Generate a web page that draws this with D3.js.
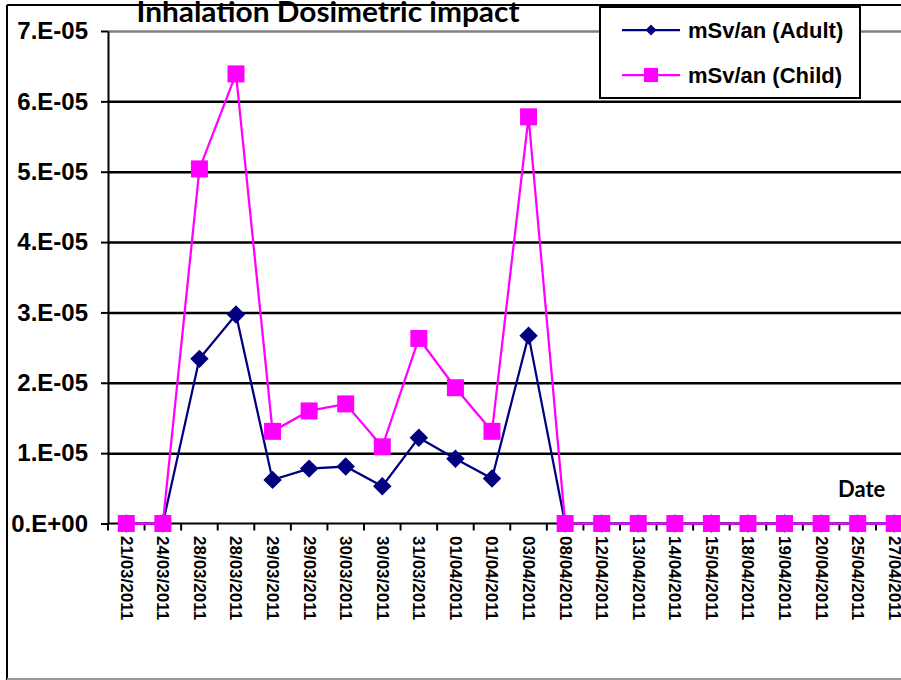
<!DOCTYPE html>
<html>
<head>
<meta charset="utf-8">
<script src="https://cdn.jsdelivr.net/npm/d3@7"></script>
<style>
  body { margin: 0; background: #fff; }
  svg { display: block; }
</style>
</head>
<body>
<svg width="901" height="680"></svg>
<script>
// **** data ****
var dates = ['21/03/2011', '24/03/2011', '28/03/2011', '28/03/2011', '29/03/2011', '29/03/2011',
  '30/03/2011', '30/03/2011', '31/03/2011', '01/04/2011', '01/04/2011', '03/04/2011',
  '08/04/2011', '12/04/2011', '13/04/2011', '14/04/2011', '15/04/2011', '18/04/2011',
  '19/04/2011', '20/04/2011', '25/04/2011', '27/04/2011'];

var adult = [0, 0, 2.34e-5, 2.97e-5, 0.62e-5, 0.78e-5, 0.81e-5, 0.53e-5, 1.22e-5, 0.92e-5, 0.64e-5, 2.67e-5,
  0, 0, 0, 0, 0, 0, 0, 0, 0, 0];

var child = [0, 0, 5.04e-5, 6.39e-5, 1.31e-5, 1.60e-5, 1.70e-5, 1.09e-5, 2.63e-5, 1.93e-5, 1.31e-5, 5.78e-5,
  0, 0, 0, 0, 0, 0, 0, 0, 0, 0];

var yTicks = [0, 1e-5, 2e-5, 3e-5, 4e-5, 5e-5, 6e-5, 7e-5];
var yTickLabels = ['0.E+00', '1.E-05', '2.E-05', '3.E-05', '4.E-05', '5.E-05', '6.E-05', '7.E-05'];

var seriesNames = ['mSv/an (Adult)', 'mSv/an (Child)'];

// **** scales ****
var svg = d3.select('svg');

var xScale = d3.scaleBand()
    .domain(d3.range(dates.length))
    .range([108, 108 + dates.length * 36.57]);

var yScale = d3.scaleLinear()
    .domain([0, 7e-5]).range([523.5, 31]);

// outer frame
svg.append('line').attr('x1', 7).attr('y1', 5).attr('x2', 901).attr('y2', 5)
    .attr('stroke', '#000').attr('stroke-width', 2);
svg.append('line').attr('x1', 7).attr('y1', 5).attr('x2', 7).attr('y2', 680)
    .attr('stroke', '#000').attr('stroke-width', 2);
svg.append('line').attr('x1', 7).attr('y1', 679).attr('x2', 901).attr('y2', 679)
    .attr('stroke', '#999').attr('stroke-width', 2);

// gridlines
svg.append('g').attr('class', 'grid')
    .attr('transform', 'translate(108,0)')
    .call(d3.axisLeft(yScale).tickValues(yTicks.slice(1)).tickSize(-820).tickFormat(''))
    .call(function (g) {
        g.select('.domain').remove();
        g.selectAll('.tick line')
            .attr('stroke', function (d) { return d === 7e-5 ? '#808080' : '#000'; })
            .attr('stroke-width', 2.5);
    });

// y axis
svg.append('g').attr('class', 'y axis')
    .attr('transform', 'translate(108,0)')
    .call(d3.axisLeft(yScale).tickValues(yTicks).tickSize(7).tickSizeOuter(0)
        .tickFormat(function (d, i) { return yTickLabels[i]; }))
    .call(function (g) {
        g.select('.domain').attr('stroke-width', 2);
        g.selectAll('.tick line').attr('stroke-width', 2);
        g.selectAll('.tick text')
            .attr('x', -20)
            .style('font-family', '"Liberation Sans", Arial, sans-serif')
            .style('font-weight', 'bold')
            .style('font-size', '24px')
            .attr('fill', '#000');
    });

// x axis line
svg.append('line')
    .attr('x1', xScale.range()[0]).attr('x2', xScale.range()[1])
    .attr('y1', yScale(0)).attr('y2', yScale(0))
    .attr('stroke', '#000').attr('stroke-width', 2);

// x tick marks between categories
svg.append('g').selectAll('line')
    .data(d3.range(dates.length + 1))
    .enter().append('line')
    .attr('x1', function (i) { return xScale.range()[0] + i * xScale.step(); })
    .attr('x2', function (i) { return xScale.range()[0] + i * xScale.step(); })
    .attr('y1', yScale(0)).attr('y2', yScale(0) + 7)
    .attr('stroke', '#000').attr('stroke-width', 2);

// x labels, rotated
svg.append('g').selectAll('text')
    .data(dates)
    .enter().append('text')
    .attr('transform', function (d, i) {
        return 'translate(' + (xScale(i) + xScale.bandwidth() / 2) + ',536) rotate(90)';
    })
    .attr('dominant-baseline', 'central')
    .style('font-family', '"Liberation Sans", Arial, sans-serif')
    .style('font-weight', 'bold')
    .style('font-size', '17px')
    .text(function (d) { return d; });

// lines and markers
function cx(d, i) { return xScale(i) + xScale.bandwidth() / 2; }

var line = d3.line()
    .x(function (d, i) { return cx(d, i); })
    .y(function (d) { return yScale(d); });

svg.append('path').datum(adult)
    .attr('d', line).attr('fill', 'none')
    .attr('stroke', '#000080').attr('stroke-width', 2.25);

svg.append('g').selectAll('path')
    .data(adult).enter().append('path')
    .attr('d', d3.symbol(d3.symbolSquare, 170))
    .attr('transform', function (d, i) { return 'translate(' + cx(d, i) + ',' + yScale(d) + ') rotate(45)'; })
    .attr('fill', '#000080');

svg.append('path').datum(child)
    .attr('d', line).attr('fill', 'none')
    .attr('stroke', '#ff00ff').attr('stroke-width', 2.25);

svg.append('g').selectAll('path')
    .data(child).enter().append('path')
    .attr('d', d3.symbol(d3.symbolSquare, 289))
    .attr('transform', function (d, i) { return 'translate(' + cx(d, i) + ',' + yScale(d) + ')'; })
    .attr('fill', '#ff00ff');

// title
svg.append('text')
    .attr('x', 328).attr('y', 22)
    .attr('text-anchor', 'middle')
    .style('font-family', 'Lato, "Open Sans", sans-serif')
    .style('font-weight', 'bold')
    .style('font-size', '28px')
    .attr('textLength', 383)
    .attr('lengthAdjust', 'spacingAndGlyphs')
    .text('Inhalation Dosimetric impact');

// axis title
svg.append('text')
    .attr('x', 838).attr('y', 497)
    .style('font-family', 'Lato, "Open Sans", sans-serif')
    .style('font-weight', 'bold')
    .style('font-size', '22px')
    .text('Date');

// legend
var legend = svg.append('g').attr('transform', 'translate(600,7)');
legend.append('rect')
    .attr('width', 260).attr('height', 91)
    .attr('fill', '#fff').attr('stroke', '#000').attr('stroke-width', 2);

var legendColors = ['#000080', '#ff00ff'];
var legendRows = legend.selectAll('g.row')
    .data(seriesNames).enter().append('g')
    .attr('class', 'row')
    .attr('transform', function (d, i) { return 'translate(0,' + (23 + i * 45) + ')'; });

legendRows.append('line')
    .attr('x1', 22).attr('x2', 80)
    .attr('stroke', function (d, i) { return legendColors[i]; })
    .attr('stroke-width', 2.25);

legendRows.append('path')
    .attr('d', function (d, i) { return d3.symbol(d3.symbolSquare, i === 0 ? 60 : 200)(); })
    .attr('transform', function (d, i) { return 'translate(51,0)' + (i === 0 ? ' rotate(45)' : ''); })
    .attr('fill', function (d, i) { return legendColors[i]; });

legendRows.append('text')
    .attr('x', 88)
    .attr('dominant-baseline', 'central')
    .style('font-family', '"Liberation Sans", Arial, sans-serif')
    .style('font-weight', 'bold')
    .style('font-size', '22px')
    .text(function (d) { return d; });
</script>
</body>
</html>
